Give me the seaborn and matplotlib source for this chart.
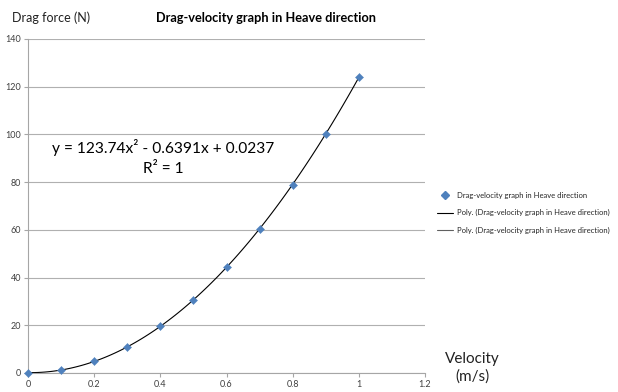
import matplotlib
matplotlib.use("Agg")
import matplotlib.pyplot as plt
import seaborn as sns
import pandas as pd
from matplotlib.lines import Line2D

velocity = [0.0, 0.1, 0.2, 0.3, 0.4, 0.5, 0.6, 0.7, 0.8, 0.9, 1.0]
drag = [0.0, 1.3, 5.0, 10.9, 19.7, 30.6, 44.4, 60.4, 78.8, 100.2, 124.1]
x_ticks = [0, 0.2, 0.4, 0.6, 0.8, 1, 1.2]
x_tick_labels = ["0", "0.2", "0.4", "0.6", "0.8", "1", "1.2"]
y_ticks = [0, 20, 40, 60, 80, 100, 120, 140]
series_name = "Drag-velocity graph in Heave direction"
trend_name = "Poly. (Drag-velocity graph in Heave direction)"
equation = "y = 123.74x² - 0.6391x + 0.0237"
r2_text = "R² = 1"

df = pd.DataFrame({"v": velocity, "F": drag})

sns.set_style("white")
plt.rcParams["font.family"] = ["Lato", "DejaVu Sans"]

fig = plt.figure(figsize=(6.18, 3.92), dpi=100)
ax = fig.add_axes([28/618, 1-373/392, (425-28)/618, (373-39)/392])

blue = "#4F81BD"
sns.regplot(data=df, x="v", y="F", order=2, ci=None, scatter=False, ax=ax,
            line_kws=dict(color="black", lw=0.8, zorder=2))
sns.scatterplot(data=df, x="v", y="F", marker="D", s=17, color=blue,
                edgecolor=blue, linewidth=0.3, ax=ax, zorder=3, clip_on=False)

ax.set_xlim(0, 1.2)
ax.set_ylim(0, 140)
ax.set_xticks(x_ticks)
ax.set_xticklabels(x_tick_labels)
ax.set_yticks(y_ticks)
ax.set_xlabel("")
ax.set_ylabel("")
ax.yaxis.grid(True, color="#B0B0B0", lw=0.8)
ax.xaxis.grid(False)
for s in ["top", "right"]:
    ax.spines[s].set_visible(False)
for s in ["left", "bottom"]:
    ax.spines[s].set_color("#A6A6A6")
    ax.spines[s].set_linewidth(0.8)
ax.tick_params(axis="both", labelsize=6.5, colors="#A6A6A6", labelcolor="#404040",
               length=3, width=0.8, direction="out", bottom=True, left=True, pad=2)
ax.set_axisbelow(True)

fig.text(266/618, 1-18/392, "Drag-velocity graph in Heave direction", ha="center", va="center",
         fontsize=9.2, fontweight="bold", color="black")
fig.text(12/618, 1-18/392, "Drag force (N)", ha="left", va="center", fontsize=9, color="#222222")
fig.text(472/618, 1-368/392, "Velocity\n(m/s)", ha="center", va="center", fontsize=11,
         color="#222222", linespacing=1.3)
fig.text(163/618, 1-147/392, equation, ha="center", va="center", fontsize=11.2, color="black")
fig.text(163/618, 1-169/392, r2_text, ha="center", va="center", fontsize=11.2, color="black")

handles = [
    Line2D([], [], marker="D", color=blue, ls="none", markersize=3.8),
    Line2D([], [], color="black", lw=0.8),
    Line2D([], [], color="#606060", lw=0.8),
]
fig.legend(handles, [series_name, trend_name, trend_name], loc="upper left",
           bbox_to_anchor=(437/618, 1-192/392), frameon=False, fontsize=5.5,
           handlelength=2.1, handletextpad=0.5, labelspacing=1.35, borderaxespad=0,
           borderpad=0)

fig.savefig("out.png", dpi=100)
